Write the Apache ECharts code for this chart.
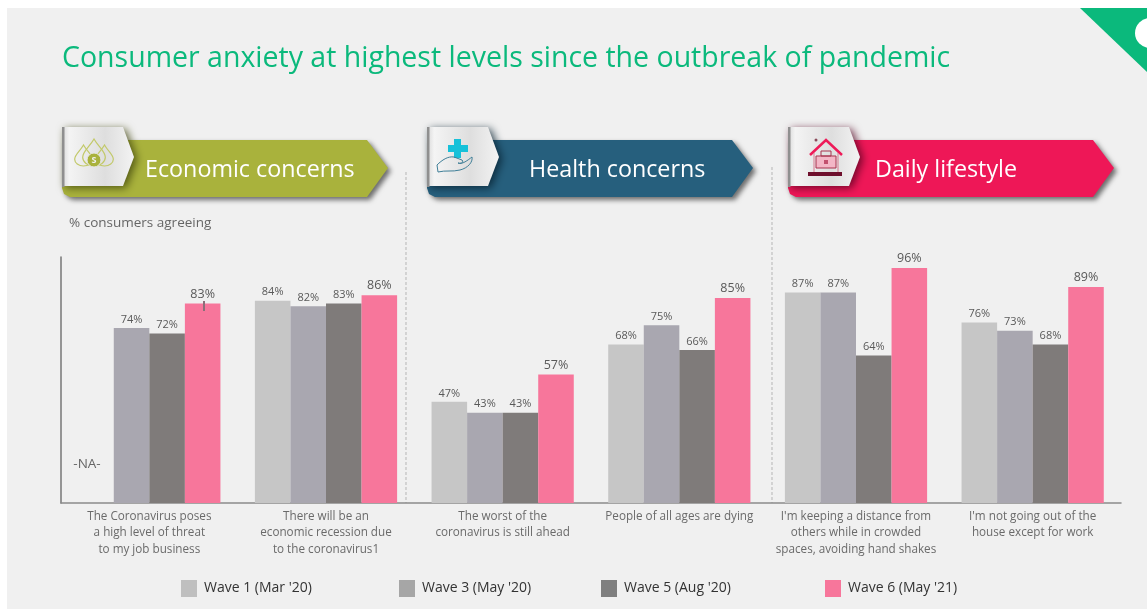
<!DOCTYPE html>
<html>
<head>
<meta charset="utf-8">
<style>
  html, body { margin: 0; padding: 0; background: #fff; }
  #chart { width: 1147px; height: 609px; }
</style>
<script src="https://cdn.jsdelivr.net/npm/echarts@6/dist/echarts.min.js"></script>
</head>
<body>
<div id="chart"></div>
<script>
const categories = [
  'The Coronavirus poses\na high level of threat\nto my job business',
  'There will be an\neconomic recession due\nto the coronavirus1',
  'The worst of the\ncoronavirus is still ahead',
  'People of all ages are dying',
  "I'm keeping a distance from\nothers while in crowded\nspaces, avoiding hand shakes",
  "I'm not going out of the\nhouse except for work"
]
const wave1 = [null, 84, 47, 68, 87, 76]
const wave3 = [74, 82, 43, 75, 87, 73]
const wave5 = [72, 83, 43, 66, 64, 68]
const wave6 = [83, 86, 57, 85, 96, 89]
const waveNames = ["Wave 1 (Mar '20)", "Wave 3 (May '20)", "Wave 5 (Aug '20)", "Wave 6 (May '21)"]
const barColors = ['#c6c6c6', '#a9a7b0', '#7f7b7a', '#f7769b']
const swatchColors = ['#bfbfbf', '#a6a6a6', '#7f7f7f', '#f7769b']
const legendLeft = [181, 399, 601, 825]

const fontName = '"Open Sans", "Noto Sans", sans-serif'
const chart = echarts.init(document.getElementById('chart'))

function makeSeries(name, values, color, big) {
  return {
    name: name,
    type: 'bar',
    data: values,
    barGap: 0,
    barCategoryGap: '19.5%',
    itemStyle: { color: color },
    label: {
      show: true,
      position: 'top',
      distance: 3,
      formatter: '{c}%',
      fontFamily: fontName,
      fontSize: big ? 12.5 : 11,
      color: '#595959'
    },
    silent: true
  }
}

// banner = coloured arrow + white tab, x is the left edge
function banner(x, color, dark, text, textX) {
  const right = x + 326
  return [
    {
      type: 'polygon', z: 10,
      shape: { points: [[x, 140], [right - 21, 140], [right, 168], [right - 21, 197], [x + 8, 197], [x + 2, 194], [x, 188]] },
      style: { fill: color, shadowBlur: 5, shadowColor: 'rgba(0,0,0,0.55)', shadowOffsetX: 3, shadowOffsetY: 3 }
    },
    {
      type: 'polygon', z: 11,
      shape: { points: [[x, 127], [x + 61, 127], [x + 72, 157], [x + 61, 186], [x, 186]] },
      style: {
        fill: new echarts.graphic.LinearGradient(0, 0, 1, 0, [
          { offset: 0, color: '#d8d8d8' },
          { offset: 0.1, color: '#f4f4f4' },
          { offset: 0.6, color: '#dedede' },
          { offset: 1, color: '#f3f3f3' }
        ]),
        shadowBlur: 9, shadowColor: dark, shadowOffsetX: 3, shadowOffsetY: 2
      }
    },
    { type: 'rect', z: 12, shape: { x: x, y: 127, width: 2.5, height: 60 }, style: { fill: '#8f8f8f' } },
    {
      type: 'text', z: 12, x: textX, y: 170,
      style: { text: text, fill: '#fff', font: '23.3px ' + fontName, textVerticalAlign: 'middle' }
    }
  ]
}

// graphic component has no plain path type, so register the svg paths as shapes
function pathShape(name, d, style, z) {
  echarts.graphic.registerShape(name, echarts.graphic.extendPath(d))
  return { type: name, z: z, style: style, shape: {} }
}

function dropPath(cx, top, h) {
  const w = h * 0.42
  return `M${cx} ${top} C${cx + w * 0.4} ${top + h * 0.3} ${cx + w} ${top + h * 0.45} ${cx + w} ${top + h * 0.68} A${w} ${h * 0.32} 0 1 1 ${cx - w} ${top + h * 0.68} C${cx - w} ${top + h * 0.45} ${cx - w * 0.4} ${top + h * 0.3} ${cx} ${top} Z`
}

const green = '#a9b23c'
const dropStyle = { fill: 'none', stroke: '#c2c969', lineWidth: 1.2 }
const iconMoney = [
  pathShape('dropLeft', dropPath(83.5, 145, 21), dropStyle, 13),
  pathShape('dropRight', dropPath(104.5, 145, 21), dropStyle, 13),
  pathShape('dropMid', dropPath(94, 139, 27), dropStyle, 13),
  { type: 'circle', z: 14, shape: { cx: 94, cy: 160, r: 7 }, style: { fill: green, stroke: '#e8e8e8', lineWidth: 1 } },
  { type: 'text', z: 15, x: 94, y: 160, style: { text: 'S', fill: '#f0f0f0', font: 'bold 9px ' + fontName, textAlign: 'center', textVerticalAlign: 'middle' } }
]
const iconHand = [
  { type: 'rect', z: 13, shape: { x: 454, y: 139, width: 7, height: 19 }, style: { fill: '#17c1d9' } },
  { type: 'rect', z: 13, shape: { x: 448, y: 145, width: 20, height: 7 }, style: { fill: '#17c1d9' } },
  pathShape('handOutline', 'M438 172 L437 165 C442 160 448 156 454 157 L462 160 C464 162 462 164 458 163 C462 165 468 160 472 157 C473 162 468 168 460 170 C452 172 446 170 438 172 Z', { fill: 'none', stroke: '#3f7f98', lineWidth: 1 }, 13)
]
const iconHouse = [
  { type: 'polyline', z: 13, shape: { points: [[810, 155], [826, 140], [842, 155]] }, style: { fill: 'none', stroke: '#ee1a58', lineWidth: 2.5 } },
  { type: 'polyline', z: 13, shape: { points: [[814, 153], [814, 172]] }, style: { stroke: '#d9788f', lineWidth: 1 } },
  { type: 'polyline', z: 13, shape: { points: [[838, 153], [838, 172]] }, style: { stroke: '#d9788f', lineWidth: 1 } },
  { type: 'rect', z: 13, shape: { x: 816, y: 156, width: 20, height: 12 }, style: { fill: '#f3b6c6', stroke: '#a8324f', lineWidth: 1 } },
  { type: 'rect', z: 13, shape: { x: 821, y: 151, width: 10, height: 5 }, style: { fill: 'none', stroke: '#a8324f', lineWidth: 1 } },
  { type: 'rect', z: 14, shape: { x: 824, y: 160, width: 4, height: 4 }, style: { fill: '#c2506e' } },
  { type: 'rect', z: 13, shape: { x: 808, y: 172, width: 34, height: 4 }, style: { fill: '#6e0f2d' } },
  { type: 'circle', z: 13, shape: { cx: 816, cy: 140, r: 1.5 }, style: { fill: '#8a4a5a' } }
]

const graphics = [
  // page panel and corner flag
  { type: 'rect', z: -10, shape: { x: 7, y: 8, width: 1140, height: 601 }, style: { fill: '#f0f0f0' } },
  { type: 'polygon', z: 1, shape: { points: [[1080, 8], [1147, 8], [1147, 72]] }, style: { fill: '#0bb97c' } },
  { type: 'circle', z: 2, shape: { cx: 1150, cy: 33, r: 15 }, style: { fill: '#fff' } },
  // title
  { type: 'text', x: 62, y: 59, style: { text: 'Consumer anxiety at highest levels since the outbreak of pandemic', fill: '#0bb97c', font: '28.5px ' + fontName, textVerticalAlign: 'middle' } },
  { type: 'text', x: 69, y: 223, style: { text: '% consumers agreeing', fill: '#666', font: '13.5px ' + fontName, textVerticalAlign: 'middle' } },
  // separators
  { type: 'line', shape: { x1: 406, y1: 172, x2: 406, y2: 503 }, style: { stroke: '#b5b5b5', lineWidth: 1, lineDash: [3, 2] } },
  { type: 'line', shape: { x1: 772, y1: 167, x2: 772, y2: 503 }, style: { stroke: '#b5b5b5', lineWidth: 1, lineDash: [3, 2] } },
  // not available marker for wave 1, first question
  { type: 'text', x: 87, y: 464, style: { text: '-NA-', fill: '#666', font: '13.5px ' + fontName, textAlign: 'center', textVerticalAlign: 'middle' } },
  // stray tick on the 83% bar, it is in the source
  { type: 'line', z: 20, shape: { x1: 204, y1: 301, x2: 204, y2: 311 }, style: { stroke: '#8a6f78', lineWidth: 2 } }
].concat(
  banner(62, green, 'rgba(60,65,10,0.8)', 'Economic concerns', 145),
  banner(427, '#265f7d', 'rgba(5,30,45,0.8)', 'Health concerns', 529),
  banner(788, '#ee1757', 'rgba(80,0,30,0.8)', 'Daily lifestyle', 875),
  iconMoney, iconHand, iconHouse
)

const option = {
  backgroundColor: '#fff',
  animation: false,
  textStyle: { fontFamily: fontName },
  legend: waveNames.map((name, i) => ({
    data: [{ name: name, icon: 'rect', itemStyle: { color: swatchColors[i] } }],
    left: legendLeft[i],
    top: 580,
    padding: 0,
    itemWidth: 16,
    itemHeight: 17,
    itemGap: 0,
    selectedMode: false,
    textStyle: { color: '#333', fontSize: 14, fontFamily: fontName, padding: [0, 0, 0, 2] }
  })),
  grid: { left: 61, right: 26, top: 257, bottom: 106 },
  xAxis: {
    type: 'category',
    data: categories,
    axisTick: { show: false },
    axisLine: { lineStyle: { color: '#8a8a8a', width: 1.5 } },
    axisLabel: { interval: 0, color: '#6a6a6a', fontSize: 11.7, lineHeight: 16.5, margin: 5, fontFamily: fontName }
  },
  yAxis: {
    type: 'value',
    min: 10,
    max: 100,
    splitLine: { show: false },
    axisTick: { show: false },
    axisLabel: { show: false },
    axisLine: { show: true, lineStyle: { color: '#777', width: 1.5 } }
  },
  series: [
    makeSeries(waveNames[0], wave1, barColors[0], false),
    makeSeries(waveNames[1], wave3, barColors[1], false),
    makeSeries(waveNames[2], wave5, barColors[2], false),
    makeSeries(waveNames[3], wave6, barColors[3], true)
  ],
  graphic: graphics
}

chart.setOption(option)
</script>
</body>
</html>
